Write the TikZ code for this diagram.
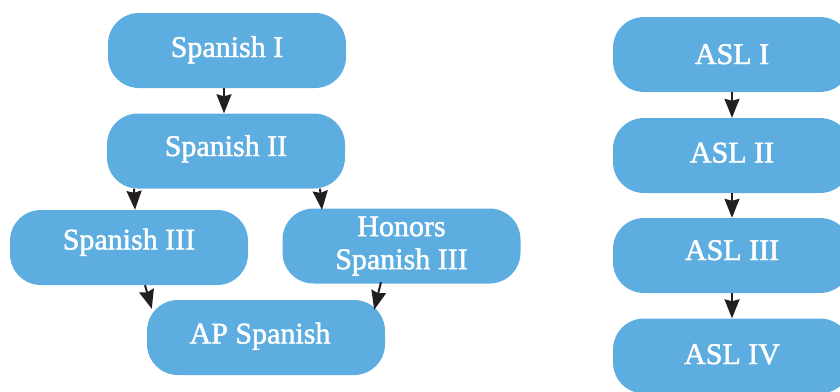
\documentclass[tikz,border=0pt]{standalone}
\usepackage{fontspec}
\setmainfont[FakeBold=1.6]{Liberation Serif}
\usetikzlibrary{arrows.meta}
\definecolor{boxblue}{HTML}{5DADE0}
\definecolor{arrowdark}{HTML}{231F20}
\tikzset{
  coursebase/.style={fill=boxblue, draw=none, rounded corners=31pt,
    minimum width=238pt, minimum height=75pt, inner sep=0pt,
    text=white, font=\fontsize{30}{33}\selectfont},
  course/.style={coursebase, text height=20pt, text depth=#1},
  course/.default=8pt,
  course2/.style={coursebase, align=center},
  arr/.style={draw=arrowdark, line width=2pt,
    -{Stealth[length=19pt,width=15pt,inset=2pt]}}
}
\begin{document}
\begin{tikzpicture}[x=1pt,y=-1pt]
\useasboundingbox (0,0) rectangle (840,391);
\node[course=7pt] (s1) at (227,50.5) {Spanish I};
\node[course=10pt] (s2) at (226,151) {Spanish II};
\node[course=16pt] (s3) at (129,247.5) {Spanish III};
\node[course2] (hon) at (401.5,246) {Honors\\Spanish III};
\node[course=8pt] (ap) at (266,337.5) {AP Spanish\kern12pt};
\node[course=1pt] (a1) at (732,54.5) {ASL I};
\node[course=6pt] (a2) at (732,155.5) {ASL II};
\node[course=11pt] (a3) at (732,255.5) {ASL III};
\node[course=4pt] (a4) at (732,356) {ASL IV};
\draw[arr] ([xshift=-3pt]s1.south) -- ([xshift=-2pt]s2.north);
\draw[arr] ([xshift=-92pt]s2.south) -- ([xshift=6pt]s3.north);
\draw[arr] ([xshift=94pt]s2.south) -- ([xshift=-79.5pt,yshift=-1.5pt]hon.north);
\draw[arr] ([xshift=16pt]s3.south) -- ([xshift=5pt,yshift=-9pt]ap.north west);
\draw[arr] ([xshift=-20.5pt,yshift=1.5pt]hon.south) -- ([xshift=-11pt,yshift=-10pt]ap.north east);
\draw[arr] (a1) -- (a2);
\draw[arr] (a2) -- (a3);
\draw[arr] (a3) -- (a4);
\end{tikzpicture}
\end{document}
